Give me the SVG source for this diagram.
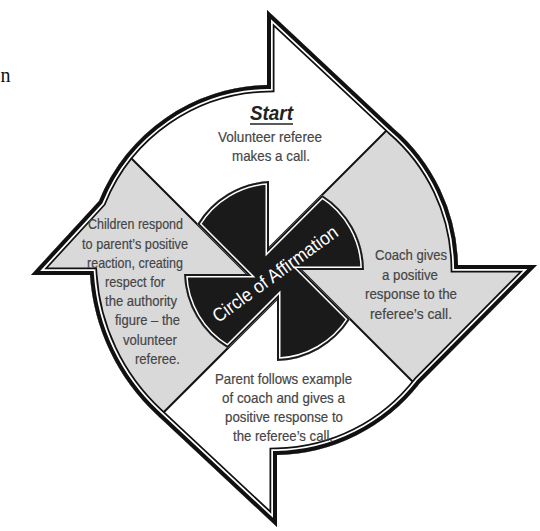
<svg xmlns="http://www.w3.org/2000/svg" width="540" height="531" viewBox="0 0 540 531">
<defs>
<style>
.txt{font-family:"Liberation Sans",Arial,sans-serif;font-size:15px;fill:#454545;text-anchor:middle;stroke:#454545;stroke-width:0.2}
.div{stroke:#111;stroke-width:2;fill:none}
.gray{fill:#d9d9d9}
</style>
<path id="outer" d="M267,85 L267,10 L393,128 A186,186 0 0 1 458,265 L537,265 L420,383 A186,186 0 0 1 277,455 L277,527 L156,414 A210,210 0 0 1 90,275 L31,275 L99,201 A186,186 0 0 1 267,85 Z"/>
<clipPath id="clipOuter"><use href="#outer"/></clipPath>
<path id="hub" d="M269,181.1 L269,248 L322.1,194.9 A90,90 0 0 1 364,270 L301,270 L350.1,319.1 A90,90 0 0 1 277,361 L277,299 L227.8,348.2 A90,90 0 0 1 184,274 L247,274 L197.2,224.2 A90,90 0 0 1 269,181.1 Z"/>
<clipPath id="clipHub"><use href="#hub"/></clipPath>
</defs>
<rect width="540" height="531" fill="#fff"/>
<text x="0.5" y="82" font-family="'Liberation Serif',serif" font-size="20" fill="#111">n</text>

<g id="regions">
<use href="#outer" fill="#fff"/>
<g clip-path="url(#clipOuter)">
<polygon class="gray" points="274,243 560,-43 600,-43 600,569"/>
<polygon class="gray" points="274.5,301.5 -20,596 -20,7"/>
</g>
</g>

<g id="connectors" clip-path="url(#clipOuter)">
<line class="div" x1="110" y1="137" x2="255" y2="282"/>
<line class="div" x1="400" y1="117" x2="265" y2="252"/>
<line class="div" x1="430" y1="399" x2="295" y2="264"/>
<line class="div" x1="150" y1="426" x2="282" y2="294"/>
</g>

<g id="ring" clip-path="url(#clipOuter)" fill="none">
<use href="#outer" stroke="#111" stroke-width="15"/>
<use href="#outer" stroke="#fff" stroke-width="11.5"/>
<use href="#outer" stroke="#111" stroke-width="8"/>
</g>

<g id="hub-node">
<use href="#hub" fill="#1a1a1a"/>
<g clip-path="url(#clipHub)" fill="none">
<use href="#hub" stroke="#fff" stroke-width="7"/>
<use href="#hub" stroke="#1a1a1a" stroke-width="4"/>
</g>
<text transform="translate(275,274) rotate(-36)" x="0" y="6.5" font-family="'Liberation Sans',Arial,sans-serif" font-size="19" fill="#fff" text-anchor="middle" textLength="150" lengthAdjust="spacingAndGlyphs">Circle of Affirmation</text>
</g>

<g id="node-top">
<text x="271.5" y="120" font-family="'Liberation Sans',Arial,sans-serif" font-size="21" font-weight="bold" font-style="italic" fill="#222" text-anchor="middle" textLength="43" lengthAdjust="spacingAndGlyphs">Start</text>
<line x1="250" y1="124" x2="293" y2="124" stroke="#222" stroke-width="1.6"/>
<text class="txt" x="270" y="141.5" textLength="104" lengthAdjust="spacingAndGlyphs">Volunteer referee</text>
<text class="txt" x="271" y="160.5" textLength="78" lengthAdjust="spacingAndGlyphs">makes a call.</text>
</g>

<g id="node-right">
<text class="txt" x="411" y="260" textLength="72" lengthAdjust="spacingAndGlyphs">Coach gives</text>
<text class="txt" x="410" y="279.5" textLength="56" lengthAdjust="spacingAndGlyphs">a positive</text>
<text class="txt" x="411" y="299" textLength="92" lengthAdjust="spacingAndGlyphs">response to the</text>
<text class="txt" x="411" y="318.5" textLength="82" lengthAdjust="spacingAndGlyphs">referee’s call.</text>
</g>

<g id="node-bottom">
<text class="txt" x="283.5" y="384" textLength="137" lengthAdjust="spacingAndGlyphs">Parent follows example</text>
<text class="txt" x="283.5" y="403" textLength="123" lengthAdjust="spacingAndGlyphs">of coach and gives a</text>
<text class="txt" x="284" y="422" textLength="118" lengthAdjust="spacingAndGlyphs">positive response to</text>
<text class="txt" x="283" y="441" textLength="100" lengthAdjust="spacingAndGlyphs">the referee’s call.</text>
</g>

<g id="node-left">
<text class="txt" x="135.5" y="229" textLength="95" lengthAdjust="spacingAndGlyphs">Children respond</text>
<text class="txt" x="135" y="249" textLength="106" lengthAdjust="spacingAndGlyphs">to parent’s positive</text>
<text class="txt" x="135" y="268" textLength="96" lengthAdjust="spacingAndGlyphs">reaction, creating</text>
<text class="txt" x="135" y="287" textLength="60" lengthAdjust="spacingAndGlyphs">respect for</text>
<text class="txt" x="141" y="306" textLength="72" lengthAdjust="spacingAndGlyphs">the authority</text>
<text class="txt" x="147.5" y="325" textLength="65" lengthAdjust="spacingAndGlyphs">figure – the</text>
<text class="txt" x="150" y="345" textLength="54" lengthAdjust="spacingAndGlyphs">volunteer</text>
<text class="txt" x="157.5" y="364" textLength="45" lengthAdjust="spacingAndGlyphs">referee.</text>
</g>
</svg>
